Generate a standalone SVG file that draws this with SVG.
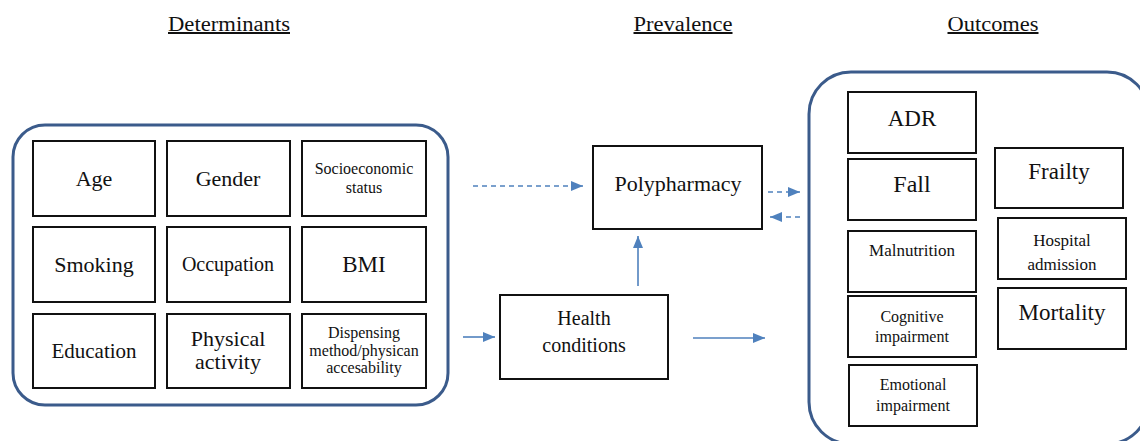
<svg xmlns="http://www.w3.org/2000/svg" width="1140" height="441" viewBox="0 0 1140 441">
<style>
text{fill:#111;text-anchor:middle;font-family:"Liberation Serif",Tinos,"Noto Serif","DejaVu Serif",FreeSerif,Times,serif}
.h{font-size:20px;text-decoration:underline}
.box{fill:#fff;stroke:#111;stroke-width:2}
.cont{fill:#fff;stroke:#3b5b8b;stroke-width:3}
.arr{stroke:#4f81bd;stroke-width:1.6;fill:none}
.dash{stroke-dasharray:5 4}
</style>
<defs>
<marker id="ah" viewBox="0 0 12 10" refX="12" refY="5" markerWidth="12" markerHeight="10" markerUnits="userSpaceOnUse" orient="auto">
<path d="M0,0 L12,5 L0,10 Z" fill="#4f81bd"/>
</marker>
</defs>
<rect width="1140" height="441" fill="#fff"/>
<g id="headings">
<text class="h" x="229" y="31" textLength="122" lengthAdjust="spacingAndGlyphs">Determinants</text>
<text class="h" x="683" y="31" textLength="99" lengthAdjust="spacingAndGlyphs">Prevalence</text>
<text class="h" x="993" y="31" textLength="91" lengthAdjust="spacingAndGlyphs">Outcomes</text>
</g>
<g id="determinants">
<rect class="cont" x="13" y="125" width="435" height="280" rx="32"/>
<g id="age"><rect class="box" x="33" y="141" width="122" height="75"/><text x="94" y="186" font-size="22">Age</text></g>
<g id="gender"><rect class="box" x="167" y="141" width="123" height="75"/><text x="228" y="186" font-size="22">Gender</text></g>
<g id="socioeconomic"><rect class="box" x="302" y="141" width="124" height="75"/><text x="364" y="174" font-size="16">Socioeconomic</text><text x="364" y="193" font-size="16">status</text></g>
<g id="smoking"><rect class="box" x="33" y="227" width="122" height="75"/><text x="94" y="272" font-size="22">Smoking</text></g>
<g id="occupation"><rect class="box" x="167" y="227" width="123" height="75"/><text x="228" y="271" font-size="20">Occupation</text></g>
<g id="bmi"><rect class="box" x="302" y="227" width="124" height="75"/><text x="364" y="272" font-size="23">BMI</text></g>
<g id="education"><rect class="box" x="33" y="314" width="122" height="74"/><text x="94" y="358" font-size="21">Education</text></g>
<g id="physical"><rect class="box" x="167" y="314" width="123" height="74"/><text x="228" y="346" font-size="22">Physical</text><text x="228" y="369" font-size="22">activity</text></g>
<g id="dispensing"><rect class="box" x="302" y="314" width="124" height="74"/><text x="364" y="338" font-size="16">Dispensing</text><text x="364" y="356" font-size="16">method/physican</text><text x="364" y="373" font-size="16">accesability</text></g>
</g>
<g id="polypharmacy"><rect class="box" x="593" y="146" width="169" height="83"/><text x="678" y="191" font-size="22">Polypharmacy</text></g>
<g id="health"><rect class="box" x="500" y="295" width="168" height="84"/><text x="584" y="325" font-size="20">Health</text><text x="584" y="352" font-size="20">conditions</text></g>
<g id="outcomes">
<rect class="cont" x="809" y="72" width="340" height="372" rx="42"/>
<g id="adr"><rect class="box" x="848" y="92" width="128" height="61"/><text x="912" y="126" font-size="23">ADR</text></g>
<g id="fall"><rect class="box" x="848" y="159" width="128" height="61"/><text x="912" y="192" font-size="24">Fall</text></g>
<g id="malnutrition"><rect class="box" x="848" y="231" width="128" height="61"/><text x="912" y="256" font-size="17">Malnutrition</text></g>
<g id="cognitive"><rect class="box" x="848" y="296" width="128" height="61"/><text x="912" y="322" font-size="16">Cognitive</text><text x="912" y="342" font-size="16">impairment</text></g>
<g id="emotional"><rect class="box" x="849" y="365" width="128" height="61"/><text x="913" y="390" font-size="16">Emotional</text><text x="913" y="411" font-size="16">impairment</text></g>
<g id="frailty"><rect class="box" x="995" y="148" width="128" height="60"/><text x="1059" y="179" font-size="23">Frailty</text></g>
<g id="hospital"><rect class="box" x="998" y="218" width="128" height="61"/><text x="1062" y="246" font-size="17">Hospital</text><text x="1062" y="270" font-size="17">admission</text></g>
<g id="mortality"><rect class="box" x="998" y="288" width="128" height="61"/><text x="1062" y="320" font-size="23">Mortality</text></g>
</g>
<g id="connectors">
<line class="arr dash" x1="473" y1="186" x2="583" y2="186" marker-end="url(#ah)"/>
<line class="arr dash" x1="768" y1="192" x2="800" y2="192" marker-end="url(#ah)"/>
<line class="arr dash" x1="800" y1="217" x2="770" y2="217" marker-end="url(#ah)"/>
<line class="arr" x1="638" y1="286" x2="638" y2="236" marker-end="url(#ah)"/>
<line class="arr" x1="463" y1="337" x2="495" y2="337" marker-end="url(#ah)"/>
<line class="arr" x1="693" y1="338" x2="765" y2="338" marker-end="url(#ah)"/>
</g>
</svg>
